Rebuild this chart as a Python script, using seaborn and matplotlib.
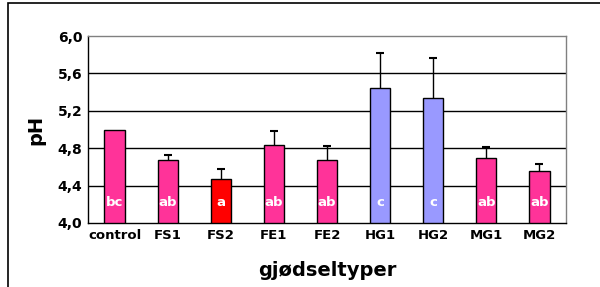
import matplotlib
matplotlib.use('Agg')
import matplotlib.pyplot as plt
import seaborn as sns
import pandas as pd
import numpy as np

# ------------------ DATA ------------------
treatments = ['control', 'FS1', 'FS2', 'FE1', 'FE2', 'HG1', 'HG2', 'MG1', 'MG2']
ph_mean = [5.00, 4.67, 4.47, 4.83, 4.67, 5.44, 5.34, 4.70, 4.56]
ph_err = [0.00, 0.06, 0.11, 0.15, 0.15, 0.38, 0.42, 0.11, 0.07]
letters = ['bc', 'ab', 'a', 'ab', 'ab', 'c', 'c', 'ab', 'ab']
bar_colors = ['#FF3399', '#FF3399', '#FF0000', '#FF3399', '#FF3399',
              '#9999FF', '#9999FF', '#FF3399', '#FF3399']

df = pd.DataFrame({'behandling': treatments, 'pH': ph_mean, 'err': ph_err})

sns.set_style('white')
plt.rcParams['font.family'] = ['DejaVu Sans']
plt.rcParams['text.color'] = 'black'
plt.rcParams['axes.labelcolor'] = 'black'
plt.rcParams['xtick.color'] = 'black'
plt.rcParams['ytick.color'] = 'black'

fig = plt.figure(figsize=(6.0, 2.87), dpi=100)
ax = fig.add_axes([88 / 600, 1 - 223 / 287, (566 - 88) / 600, (223 - 36) / 287])

# grid lines behind bars
for yv in [4.4, 4.8, 5.2, 5.6]:
    ax.axhline(yv, color='black', lw=1.0, zorder=0)

sns.barplot(data=df, x='behandling', y='pH', hue='behandling', palette=bar_colors,
            legend=False, width=0.38, saturation=1, edgecolor='black',
            linewidth=1.0, ax=ax, zorder=2)

# error bars (upper only, control has none)
x = np.arange(len(treatments))
has_err = df['err'] > 0
_, caps, _ = ax.errorbar(x[has_err], df['pH'][has_err],
                         yerr=[np.zeros(has_err.sum()), df['err'][has_err]],
                         fmt='none', ecolor='black', elinewidth=1.0,
                         capsize=3, capthick=1.5, zorder=3)
caps[0].set_visible(False)

# significance letters
for i, lab in enumerate(letters):
    ax.text(i, 4.22, lab, ha='center', va='center', color='white',
            fontsize=9.5, fontweight='bold', zorder=4)

ax.set_ylim(4.0, 6.0)
ax.set_xlim(-0.5, len(treatments) - 0.5)
ax.set_yticks([4.0, 4.4, 4.8, 5.2, 5.6, 6.0])
ax.set_yticklabels(['4,0', '4,4', '4,8', '5,2', '5,6', '6,0'],
                   fontsize=10, fontweight='bold')
ax.set_xticks(x)
ax.set_xticklabels(treatments, fontsize=9.5, fontweight='bold')
ax.set_xticks(np.arange(-0.5, len(treatments)), minor=True)
ax.tick_params(axis='x', which='major', length=0, pad=4)
ax.tick_params(axis='x', which='minor', length=3, direction='out', width=1)
ax.tick_params(axis='y', length=3, direction='out', width=1, pad=1)

for side in ['left', 'bottom']:
    ax.spines[side].set_color('black')
    ax.spines[side].set_linewidth(1.0)
for side in ['top', 'right']:
    ax.spines[side].set_color('#808080')
    ax.spines[side].set_linewidth(1.0)

ax.set_ylabel('pH', fontsize=14, fontweight='bold', labelpad=9)
ax.set_xlabel('gjødseltyper', fontsize=14, fontweight='bold', labelpad=14)

# outer frame of the chart area
fig.patches.append(plt.Rectangle((8 / 600, -0.05), 1.2, 1.05 - 3 / 287,
                                 transform=fig.transFigure, fill=False,
                                 edgecolor='black', lw=1.2))

fig.savefig('out.png', dpi=100)
